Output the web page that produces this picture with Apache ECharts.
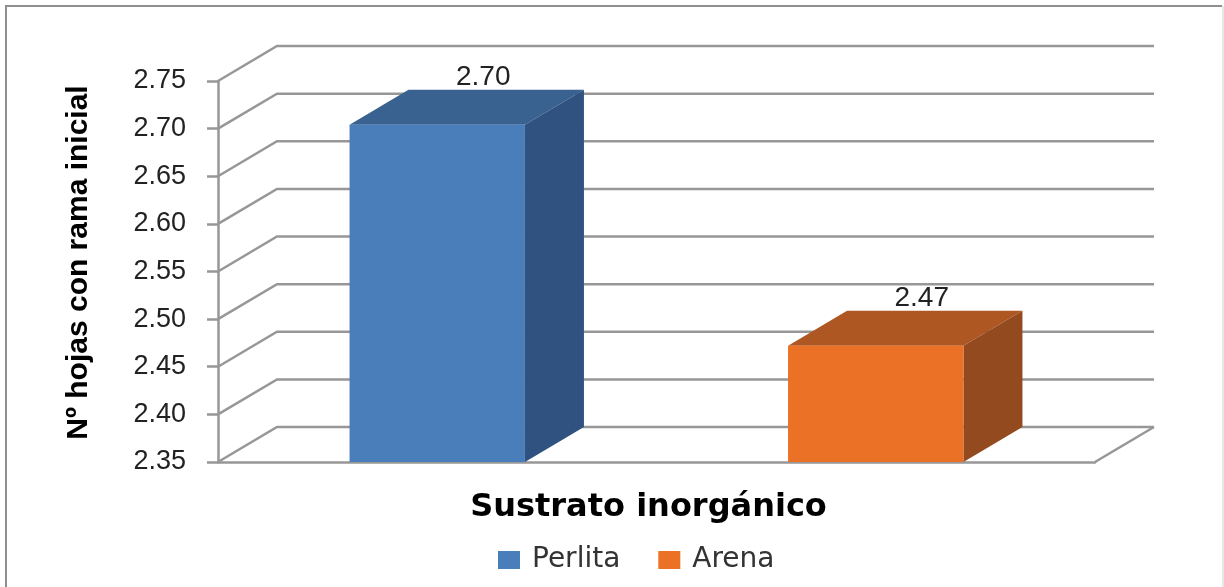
<!DOCTYPE html>
<html>
<head>
<meta charset="utf-8">
<title>Sustrato inorgánico</title>
<script src="https://cdn.jsdelivr.net/npm/echarts@6/dist/echarts.min.js"></script>
<style>
html,body{margin:0;padding:0;background:#fff;}
#chart{width:1224px;height:587px;}
</style>
</head>
<body>
<div id="chart"></div>
<script>
var categories = ['Perlita', 'Arena'];
// bar heights, the labels round them to 2.70 and 2.47
var perlitaValues = [2.704];
var arenaValues = [2.472];
var yTicks = [2.35, 2.40, 2.45, 2.50, 2.55, 2.60, 2.65, 2.70, 2.75];

// fake 3d depth of the chart box, in px
var depthX = 59;
var depthY = 35;
var gridColor = '#979797';

function wallRender(params, api) {
	var value = api.value(0);
	var y = api.coord([0, value])[1];
	var left = params.coordSys.x;
	var right = left + params.coordSys.width;
	var children = [{
		type: 'polyline',
		shape: {points: [[left, y], [left + depthX, y - depthY], [right + depthX, y - depthY]]},
		style: {stroke: gridColor, lineWidth: 2.5, fill: null}
	}];
	// floor edge on the right side
	if (params.dataIndex == 0) {
		children.push({
			type: 'line',
			shape: {x1: right, y1: y, x2: right + depthX, y2: y - depthY},
			style: {stroke: gridColor, lineWidth: 2.5}
		});
	}
	return {type: 'group', children: children};
}

function barRender(front, top, side) {
	return function (params, api) {
		var base = api.coord([api.value(0), yTicks[0]]);
		var head = api.coord([api.value(0), api.value(1)]);
		var w = api.size([1, 0])[0] * 0.4;
		var x0 = base[0] - w / 2;
		var x1 = base[0] + w / 2;
		return {
			type: 'group',
			children: [{
				// label goes first, the bar top cuts it a little like in the original
				type: 'text',
				x: base[0] + 46,
				y: head[1] - 48,
				style: {
					text: api.value(1).toFixed(2),
					font: '28px "Liberation Sans"',
					fill: '#222',
					align: 'center',
					verticalAlign: 'middle'
				}
			}, {
				type: 'polygon',
				shape: {points: [[x0, head[1]], [x0 + depthX, head[1] - depthY], [x1 + depthX, head[1] - depthY], [x1, head[1]]]},
				style: {fill: top}
			}, {
				type: 'polygon',
				shape: {points: [[x1, head[1]], [x1 + depthX, head[1] - depthY], [x1 + depthX, base[1] - depthY], [x1, base[1]]]},
				style: {fill: side}
			}, {
				type: 'rect',
				shape: {x: x0, y: head[1], width: w, height: base[1] - head[1]},
				style: {fill: front}
			}]
		};
	};
}

var myChart = echarts.init(document.getElementById('chart'));

var option = {
	animation: false,
	backgroundColor: '#fff',
	grid: {left: 218, top: 81, width: 877, height: 381},
	legend: {
		data: categories,
		left: 493,
		top: 541,
		icon: 'rect',
		itemWidth: 22,
		itemHeight: 18,
		itemGap: 38,
		textStyle: {fontFamily: 'DejaVu Sans', fontSize: 28, color: '#333', padding: [0, 0, 0, 7]}
	},
	xAxis: {
		type: 'category',
		data: categories,
		name: 'Sustrato inorgánico',
		nameLocation: 'middle',
		nameGap: 30,
		nameTextStyle: {fontFamily: 'DejaVu Sans', fontWeight: 'bold', fontSize: 32, color: '#000', padding: [0, 16, 0, 0]},
		axisLine: {lineStyle: {color: gridColor, width: 2.5}},
		axisTick: {show: false},
		axisLabel: {show: false}
	},
	yAxis: {
		type: 'value',
		min: 2.35,
		max: 2.75,
		interval: 0.05,
		name: 'Nº hojas con rama inicial',
		nameLocation: 'middle',
		nameGap: 124,
		nameTextStyle: {fontFamily: 'Liberation Sans', fontWeight: 'bold', fontSize: 30, color: '#000', padding: [0, 0, 0, 18]},
		axisLine: {show: true, lineStyle: {color: gridColor, width: 2.5}},
		axisTick: {show: true, length: 11, lineStyle: {color: gridColor, width: 2.5}},
		axisLabel: {
			margin: 32,
			fontFamily: 'Liberation Sans',
			fontSize: 27,
			color: '#222',
			padding: [5, 0, 0, 0],
			formatter: function (v) { return v.toFixed(2); }
		},
		splitLine: {show: false}
	},
	series: [{
		name: 'wall',
		type: 'custom',
		renderItem: wallRender,
		encode: {y: 0},
		data: yTicks.map(function (v) { return [v]; }),
		z: 1
	}, {
		name: categories[0],
		type: 'custom',
		renderItem: barRender('#4a7ebb', '#3a6290', '#2f5280'),
		itemStyle: {color: '#4a7ebb'},
		encode: {x: 0, y: 1},
		data: perlitaValues.map(function (v) { return [0, v]; }),
		z: 3
	}, {
		name: categories[1],
		type: 'custom',
		renderItem: barRender('#ea7125', '#ae5723', '#934a1f'),
		itemStyle: {color: '#ea7125'},
		encode: {x: 0, y: 1},
		data: arenaValues.map(function (v) { return [1, v]; }),
		z: 3
	}],
	graphic: [{
		type: 'polyline',
		shape: {points: [[6, 587], [6, 6], [1222, 6]]},
		style: {stroke: '#8f8f8f', lineWidth: 2, fill: null}
	}, {
		type: 'line',
		shape: {x1: 1223, y1: 6, x2: 1223, y2: 587},
		style: {stroke: '#cfcfcf', lineWidth: 1}
	}]
};

myChart.setOption(option);
</script>
</body>
</html>
